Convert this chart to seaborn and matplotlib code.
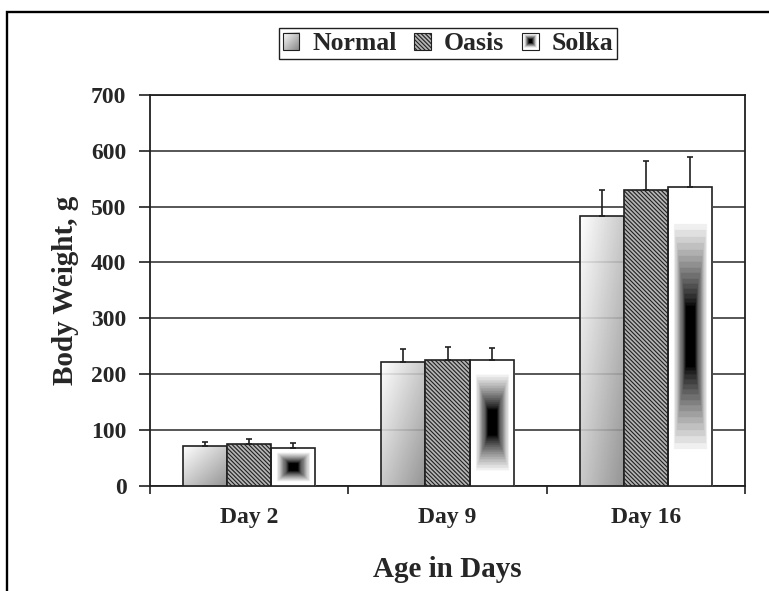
import numpy as np
import pandas as pd
import matplotlib.pyplot as plt
import seaborn as sns
from matplotlib.patches import Patch, Rectangle
from matplotlib.legend_handler import HandlerBase
from matplotlib.image import BboxImage
from matplotlib.transforms import Bbox, TransformedBbox
from matplotlib.colors import Normalize

# ---- data ----
days = ["Day 2", "Day 9", "Day 16"]
diets = ["Normal", "Oasis", "Solka"]

normal_mean = [71, 221, 483]
oasis_mean = [75, 225, 529]
solka_mean = [68, 226, 535]

normal_sd = [8, 23, 47]
oasis_sd = [8, 23, 52]
solka_sd = [8, 21, 53]

y_ticks = [0, 100, 200, 300, 400, 500, 600, 700]

means = {"Normal": normal_mean, "Oasis": oasis_mean, "Solka": solka_mean}
sds = {"Normal": normal_sd, "Oasis": oasis_sd, "Solka": solka_sd}

df = pd.DataFrame(
    [(d, diet, means[diet][i]) for diet in diets for i, d in enumerate(days)],
    columns=["day", "diet", "weight"],
)

# ---- style ----
sns.set_style("white")
plt.rcParams["font.family"] = ["Liberation Serif", "DejaVu Serif"]
plt.rcParams["font.weight"] = "bold"
plt.rcParams["hatch.linewidth"] = 0.8
plt.rcParams["hatch.color"] = "black"

EDGE = "#202020"
HATCH = "\\" * 8
OASIS_FACE = "#b4b4b4"


# gradient fills (Excel style)
def normal_fill(h=300, w=60):
    v = np.linspace(0, 1, h)[:, None]
    u = np.linspace(0, 1, w)[None, :]
    t = (u + v) / 2
    return 1 - 0.48 * t


def solka_fill(h=300, w=60):
    v = np.linspace(-1, 1, h)[:, None]
    u = np.linspace(-1, 1, w)[None, :]
    t = np.maximum(np.abs(u), np.abs(v))
    g = np.clip((t - 0.2) / 0.58, 0, 1) ** 0.8
    return np.round(g * 16) / 16


class GradientHandler(HandlerBase):
    def __init__(self, arr, **kw):
        super().__init__(**kw)
        self.arr = arr

    def create_artists(self, legend, orig_handle, xdescent, ydescent,
                       width, height, fontsize, trans):
        bb = TransformedBbox(Bbox.from_bounds(-xdescent, -ydescent, width, height), trans)
        img = BboxImage(bb, cmap="gray", norm=Normalize(0, 1), interpolation="bilinear")
        img.set_data(self.arr)
        rect = Rectangle((-xdescent, -ydescent), width, height, facecolor="none",
                         edgecolor=EDGE, lw=0.8, transform=trans)
        return [img, rect]


fig = plt.figure(figsize=(7.69, 5.91), dpi=100)
ax = fig.add_axes([0.1951, 0.1782, 0.7737, 0.6611])

sns.barplot(
    data=df, x="day", y="weight", hue="diet",
    order=days, hue_order=diets,
    palette=["white"] * 3, saturation=1,
    width=0.667, gap=0, errorbar=None, legend=False,
    edgecolor=EDGE, linewidth=1.2, zorder=4, ax=ax,
)

# fills + error bars per diet
for diet, cont in zip(diets, ax.containers):
    xs, ys = [], []
    for bar in cont:
        x0, w, h = bar.get_x(), bar.get_width(), bar.get_height()
        xs.append(x0 + w / 2)
        ys.append(h)
        if diet == "Normal":
            bar.set_facecolor("none")
            ax.imshow(normal_fill(), extent=[x0, x0 + w, 0, h], cmap="gray",
                      vmin=0, vmax=1, aspect="auto", alpha=0.88, zorder=3,
                      interpolation="bilinear")
        elif diet == "Solka":
            bar.set_facecolor("none")
            ax.imshow(solka_fill(), extent=[x0, x0 + w, 0, h], cmap="gray",
                      vmin=0, vmax=1, aspect="auto", zorder=3,
                      interpolation="bilinear")
        else:
            bar.set_facecolor(OASIS_FACE)
            bar.set_hatch(HATCH)
    ax.errorbar(xs, ys, yerr=[np.zeros(len(ys)), sds[diet]], fmt="none",
                ecolor=EDGE, elinewidth=1.2, capsize=2.5, capthick=1.2, zorder=5)

# ---- axes ----
ax.set_xlim(-0.5, 2.5)
ax.set_ylim(0, 700)
ax.set_yticks(y_ticks)
ax.yaxis.grid(True, color="#3a3a3a", lw=1.2)
ax.set_axisbelow(True)

ax.set_xticks([-0.5, 0.5, 1.5, 2.5], minor=True)
ax.tick_params(axis="x", which="major", length=0, pad=15, labelsize=17)
ax.tick_params(axis="x", which="minor", bottom=True, length=6, width=1.2,
               direction="out", color=EDGE)
ax.tick_params(axis="y", left=True, length=8, width=1.2, direction="out",
               pad=9, labelsize=17, color=EDGE)

for s in ax.spines.values():
    s.set_visible(True)
    s.set_color(EDGE)
    s.set_linewidth(1.3)

ax.set_xlabel("Age in Days", fontsize=21, fontweight="bold")
ax.set_ylabel("Body Weight, g", fontsize=21, fontweight="bold")
ax.xaxis.set_label_coords(0.5, -0.18)
ax.yaxis.set_label_coords(-0.119, 0.5)

# ---- legend ----
h_normal = Patch(label="Normal")
h_oasis = Patch(facecolor=OASIS_FACE, edgecolor=EDGE, hatch=HATCH, lw=0.8, label="Oasis")
h_solka = Patch(label="Solka")
leg = ax.legend(
    handles=[h_normal, h_oasis, h_solka], labels=diets,
    handler_map={h_normal: GradientHandler(normal_fill(40, 40)),
                 h_solka: GradientHandler(solka_fill(40, 40))},
    loc="upper center", bbox_to_anchor=(448 / 769, 1 - 28.3 / 591),
    bbox_transform=fig.transFigure, borderaxespad=0, ncol=3,
    frameon=True, fancybox=False,
    edgecolor=EDGE, framealpha=1, prop={"size": 18.5, "weight": "bold"},
    handlelength=0.65, handleheight=0.65, handletextpad=0.5,
    columnspacing=0.7, borderpad=0.15,
)
leg.get_frame().set_linewidth(1.0)

# outer chart frame (cropped at right/bottom)
fig.add_artist(Rectangle((7 / 769, -0.1), 1.2, 1 - 12 / 591 + 0.1,
                         transform=fig.transFigure, fill=False,
                         lw=1.7, edgecolor="black"))

fig.savefig("out.png", dpi=100)
